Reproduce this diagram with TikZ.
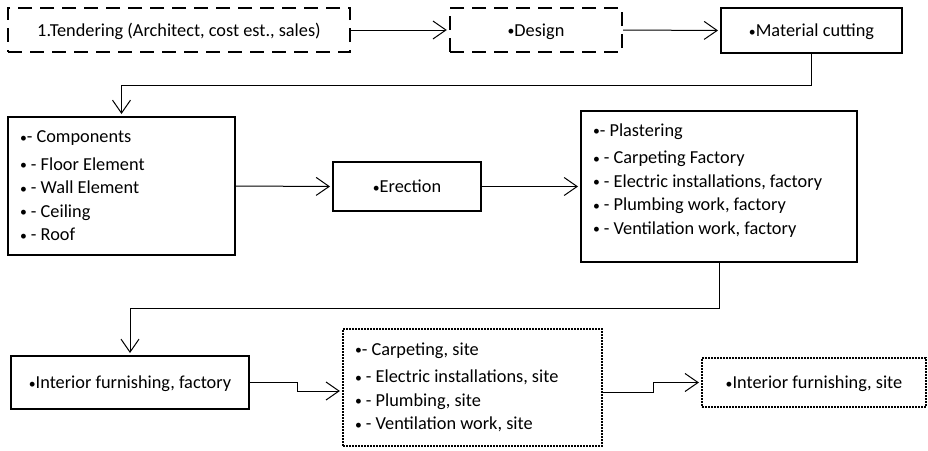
\documentclass[tikz,border=0pt]{standalone}
\usepackage{fontspec}
\setmainfont{Carlito}
\usetikzlibrary{arrows.meta}
\newcommand{\bul}{\raisebox{0.5pt}{\scalebox{0.75}{•}}}

\begin{document}
\begin{tikzpicture}[x=1pt,y=-1pt,>=Latex,
  stage/.style={draw,line width=2pt,inner sep=0pt,font=\fontsize{18.3}{23.5}\selectfont},
  oneline/.style={text height=14pt,text depth=2pt},
  offer/.style={stage,oneline,line width=2.4pt,dash pattern=on 14pt off 8pt},
  onsite/.style={stage,line width=2.2pt,dash pattern=on 1.6pt off 1.4pt},
  listbox/.style={align=flush left,inner xsep=12pt},
  flow/.style={-{Straight Barb[length=13pt,width=18pt,line width=1pt]},line width=1pt,shorten >=2pt}]
  \useasboundingbox (0,0) rectangle (928,450);

  % top row
  \node[offer,minimum width=342pt,minimum height=44pt] (tender) at (179,30) {1.Tendering (Architect, cost est., sales)};
  \node[offer,minimum width=172pt,minimum height=44pt] (design) at (536,30) {\bul Design};
  \node[stage,oneline,minimum width=181pt,minimum height=45pt] (cutting) at (811.5,30.5) {\bul Material cutting};

  % middle row
  \node[stage,listbox,text width=203pt,minimum height=138pt] (comp) at (121.5,186)
    {\bul- Components\\[4pt]\bul{} - Floor Element\\\bul{} - Wall Element\\\bul{} - Ceiling\\\bul{} - Roof};
  \node[stage,oneline,minimum width=148pt,minimum height=49pt] (erect) at (407,186.5) {\bul Erection};
  \node[stage,listbox,text width=252pt,minimum height=151pt] (plaster) at (719,186.5)
    {\bul- Plastering\\[4pt]\bul{} - Carpeting Factory\\\bul{} - Electric installations, factory\\\bul{} - Plumbing work, factory\\\bul{} - Ventilation work, factory\\[-8pt]\mbox{}};

  % bottom row
  \node[stage,oneline,minimum width=238pt,minimum height=53pt] (furnf) at (130,382.5) {\bul Interior furnishing, factory};
  \node[onsite,listbox,text width=235pt,minimum height=117pt] (siteinst) at (472.5,387.5)
    {\bul- Carpeting, site\\[4pt]\bul{} - Electric installations, site\\\bul{} - Plumbing, site\\\bul{} - Ventilation work, site};
  \node[onsite,oneline,minimum width=224pt,minimum height=49pt] (furns) at (814,382.5) {\bul Interior furnishing, site};

  \coordinate (turn1) at (0,85);
  \coordinate (turn2) at (0,308);
  \coordinate (jog1) at (297,0);
  \coordinate (jog2) at (653,0);
  \coordinate (sitein) at ([yshift=-3.5pt]siteinst.west);
  \coordinate (siteout) at ([yshift=-4.5pt]siteinst.east);

  \draw[flow] (tender.east) -- (design.west);
  \draw[flow] (design.east) -- (cutting.west);
  \draw[flow] (cutting.south) -- (cutting.south |- turn1) -| (comp.north);
  \draw[flow] (comp.east) -- (erect.west);
  \draw[flow] (erect.east) -- (plaster.west);
  \draw[flow] (plaster.south) -- (plaster.south |- turn2) -| (furnf.north);
  \draw[flow] (furnf.east) -- (furnf.east -| jog1) -- (jog1 |- sitein) -- (sitein);
  \draw[flow] (siteout) -- (siteout -| jog2) -- (jog2 |- furns.west) -- (furns.west);
\end{tikzpicture}
\end{document}
